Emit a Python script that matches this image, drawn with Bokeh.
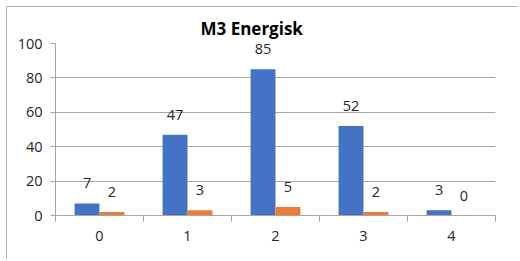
from bokeh.plotting import figure
from bokeh.models import Range1d, FixedTicker, ColumnDataSource
from bokeh.embed import file_html
from bokeh.resources import INLINE
from bokeh.core.properties import value

categories = ["0", "1", "2", "3", "4"]
series_a = [7, 47, 85, 52, 3]
series_b = [2, 3, 5, 2, 0]
y_ticks = [0, 20, 40, 60, 80, 100]

BLUE = "#4472C4"
ORANGE = "#ED7D31"
GRID = "#a6a6a6"
TEXT = "#262626"
FONT = "Open Sans"

idx = list(range(len(categories)))
bw = 0.283
off = 0.1417

p = figure(width=512, height=253, output_backend="svg", toolbar_location=None,
           x_range=Range1d(-0.5, len(categories) - 0.5), y_range=Range1d(0, 100),
           min_border_left=48, min_border_right=24, min_border_top=36, min_border_bottom=45,
           title="M3 Energisk")
p.styles = {"border-left": "1px solid #b3b3b3", "border-top": "1px solid #b3b3b3",
            "margin-left": "6px", "margin-top": "6px"}
p.outline_line_color = None
p.background_fill_color = "white"
p.border_fill_color = "white"

p.title.text_font = FONT
p.title.text_font_style = "bold"
p.title.text_font_size = "17px"
p.title.text_color = "#000000"
p.title.align = "left"
p.title.offset = 145
p.title.standoff = 7

src_a = ColumnDataSource(dict(x=[i - off for i in idx], top=series_a, lab=[str(v) for v in series_a]))
src_b = ColumnDataSource(dict(x=[i + off for i in idx], top=series_b, lab=[str(v) for v in series_b]))

p.vbar(x="x", top="top", width=bw, bottom=0, source=src_a, fill_color=BLUE, line_color=None)
p.vbar(x="x", top="top", width=bw, bottom=0, source=src_b, fill_color=ORANGE, line_color=None)

for src in (src_a, src_b):
    p.text(x="x", y="top", text="lab", source=src, y_offset=-20, text_align="center",
           text_baseline="middle", text_font=value(FONT), text_font_size="14.5px", text_color=TEXT)

# x axis
p.xaxis.ticker = FixedTicker(ticks=idx, minor_ticks=[i - 0.5 for i in range(len(categories) + 1)])
p.xaxis.major_label_overrides = {i: c for i, c in zip(idx, categories)}
p.xaxis.major_tick_line_color = None
p.xaxis.major_tick_out = 0
p.xaxis.major_tick_in = 0
p.xaxis.minor_tick_out = 6
p.xaxis.minor_tick_in = 0
p.xaxis.minor_tick_line_color = GRID
p.xaxis.axis_line_color = GRID
p.xaxis.major_label_standoff = 9
p.xaxis.major_label_text_font = FONT
p.xaxis.major_label_text_font_size = "14.5px"
p.xaxis.major_label_text_color = TEXT

# y axis
p.yaxis.ticker = FixedTicker(ticks=y_ticks)
p.yaxis.minor_tick_line_color = None
p.yaxis.major_tick_out = 5
p.yaxis.major_tick_in = 0
p.yaxis.major_tick_line_color = GRID
p.yaxis.axis_line_color = GRID
p.yaxis.major_label_standoff = 8
p.yaxis.major_label_text_font = FONT
p.yaxis.major_label_text_font_size = "14.5px"
p.yaxis.major_label_text_color = TEXT

p.xgrid.grid_line_color = None
p.ygrid.grid_line_color = GRID
p.ygrid.ticker = FixedTicker(ticks=y_ticks)

open("out.html", "w").write(file_html(p, INLINE))
